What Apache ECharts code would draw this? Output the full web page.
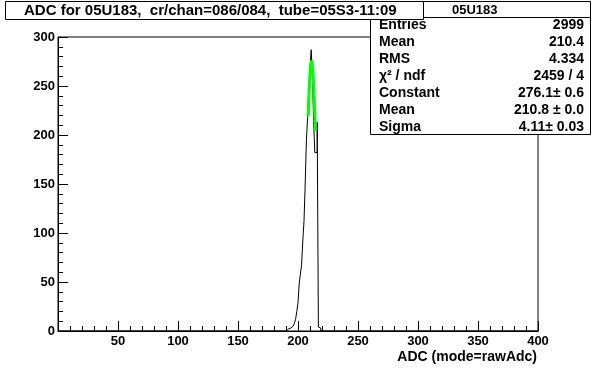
<!DOCTYPE html>
<html>
<head>
<meta charset="utf-8">
<script src="https://cdn.jsdelivr.net/npm/echarts@6/dist/echarts.min.js"></script>
<style>
  html, body { margin: 0; padding: 0; background: #fff; }
  #main { width: 596px; height: 368px; }
</style>
</head>
<body>
<div id="main"></div>
<script>
// histogram contents, one bin per ADC count, starting at firstBin
var firstBin = 188;
var counts = [1, 0, 1, 2, 1, 3, 2, 5, 4, 8,
              12, 20, 29, 48, 58, 68, 92, 112, 150, 194,
              218, 248, 268, 287, 262, 215, 182, 182, 213, 4, 3];
// gaussian fit curve
var fitX = [208, 209, 210, 211, 212, 213, 214];
var fitY = [219, 251, 271, 276, 264, 239, 204];

var titleText = 'ADC for 05U183,  cr/chan=086/084,  tube=05S3-11:09';
var statsName = '05U183';
var statsLabels = ['Entries', 'Mean', 'RMS', '\u03c7\u00b2 / ndf', 'Constant', 'Mean', 'Sigma'];
var statsValues = ['2999', '210.4', '4.334', '2459 / 4', '276.1\u00b1 0.6', '210.8 \u00b1 0.0', '4.11\u00b1 0.03'];

var xMin = 0, xMax = 400;
var yMin = 0, yMax = 300;

var myChart = echarts.init(document.getElementById('main'));

var histData = [[xMin, 0]];
counts.forEach(function (c, i) {
    histData.push([firstBin + i, c]);
});
histData.push([firstBin + counts.length, 0]);
histData.push([xMax, 0]);

var fitData = fitX.map(function (x, i) { return [x + 0.5, fitY[i]]; });

var font = 'Liberation Sans, Arial, sans-serif';

var statsGraphics = [];
statsGraphics.push({
    type: 'rect', z: 10,
    shape: { x: 370.5, y: 17.5, width: 220, height: 117 },
    style: { fill: '#fff', stroke: '#000', lineWidth: 1 }
});
statsLabels.forEach(function (lab, i) {
    var y = 25 + i * 17;
    statsGraphics.push({
        type: 'text', z: 11, x: 379, y: y,
        style: { text: lab, font: 'bold 14px ' + font, fill: '#000', textVerticalAlign: 'middle' }
    });
    statsGraphics.push({
        type: 'text', z: 11, x: 584, y: y,
        style: { text: statsValues[i], font: 'bold 14px ' + font, fill: '#000', textAlign: 'right', textVerticalAlign: 'middle' }
    });
});
// title pave and stats header drawn on top
statsGraphics.push({
    type: 'rect', z: 12,
    shape: { x: 5.5, y: 1.5, width: 418, height: 18 },
    style: { fill: '#fff', stroke: '#000', lineWidth: 1 }
});
statsGraphics.push({
    type: 'text', z: 13, x: 24, y: 11,
    style: { text: titleText, font: 'bold 15px ' + font, fill: '#000', textVerticalAlign: 'middle' }
});
statsGraphics.push({
    type: 'rect', z: 12,
    shape: { x: 423.5, y: 1.5, width: 167, height: 16 },
    style: { fill: '#fff', stroke: '#000', lineWidth: 1 }
});
statsGraphics.push({
    type: 'text', z: 13, x: 452, y: 10,
    style: { text: statsName, font: 'bold 13px ' + font, fill: '#000', textVerticalAlign: 'middle' }
});
statsGraphics.push({
    type: 'text', z: 13, x: 537, y: 357,
    style: { text: 'ADC (mode=rawAdc)', font: 'bold 14px ' + font, fill: '#000', textAlign: 'right', textVerticalAlign: 'middle' }
});

var option = {
    animation: false,
    backgroundColor: '#fff',
    grid: {
        left: 58, right: 58, top: 37, bottom: 37,
        show: true, borderColor: '#000', borderWidth: 1
    },
    xAxis: {
        type: 'value', min: xMin, max: xMax, interval: 50,
        axisLine: { show: true, onZero: false, lineStyle: { color: '#000' } },
        axisTick: { show: true, inside: true, length: 10, lineStyle: { color: '#000' } },
        minorTick: { show: true, splitNumber: 5, length: 5, lineStyle: { color: '#000' } },
        splitLine: { show: false },
        axisLabel: {
            color: '#000', fontFamily: font, fontWeight: 'bold', fontSize: 13, margin: 4,
            formatter: function (v) { return v === 0 ? '' : String(v); }
        }
    },
    yAxis: {
        type: 'value', min: yMin, max: yMax, interval: 50,
        axisLine: { show: true, lineStyle: { color: '#000' } },
        axisTick: { show: true, inside: true, length: 10, lineStyle: { color: '#000' } },
        minorTick: { show: true, splitNumber: 5, length: 5, lineStyle: { color: '#000' } },
        splitLine: { show: false },
        axisLabel: { color: '#000', fontFamily: font, fontWeight: 'bold', fontSize: 13, margin: 3 }
    },
    series: [
        {
            type: 'line', step: 'end', data: histData, showSymbol: false, symbol: 'none',
            lineStyle: { color: '#000', width: 1 }, z: 2
        },
        {
            type: 'line', data: fitData, showSymbol: false, symbol: 'none',
            lineStyle: { color: '#00ff00', width: 3 }, z: 3
        }
    ],
    graphic: statsGraphics
};

myChart.setOption(option);
</script>
</body>
</html>
